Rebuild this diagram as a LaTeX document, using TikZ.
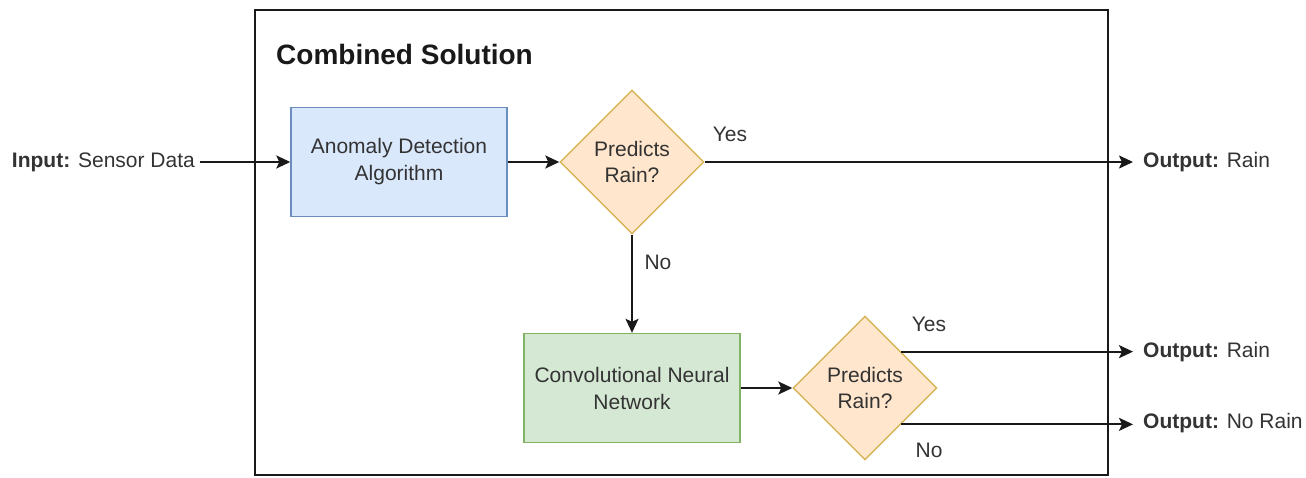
\documentclass[tikz,border=0pt]{standalone}
\usepackage{fontspec}
\setmainfont{Liberation Sans}
\usetikzlibrary{shapes.geometric,arrows.meta}
\definecolor{txt}{HTML}{333333}
\definecolor{bluefill}{HTML}{DAE8FC}
\definecolor{bluestroke}{HTML}{6C8EBF}
\definecolor{greenfill}{HTML}{D5E8D4}
\definecolor{greenstroke}{HTML}{82B366}
\definecolor{orfill}{HTML}{FFE6CC}
\definecolor{orstroke}{HTML}{D6B656}
\tikzset{
  lbl/.style={text=txt,font=\fontsize{21}{26}\selectfont,inner sep=0pt},
  procbox/.style={draw=#1stroke,fill=#1fill,line width=1.4pt,minimum width=216pt,minimum height=109pt,
    align=center,text=txt,font=\fontsize{21}{27}\selectfont,inner sep=0pt},
  decision/.style={diamond,draw=orstroke,fill=orfill,line width=1.4pt,minimum width=144pt,minimum height=144pt,
    aspect=1,align=center,text=txt,font=\fontsize{21}{26}\selectfont,inner sep=0pt},
  conn/.style={line width=2pt,draw=black!90,-{Stealth[length=14pt,width=13pt,inset=3pt]}},
}
\begin{document}
\begin{tikzpicture}[x=1pt,y=-1pt]
\useasboundingbox (0,0) rectangle (1306,478);
% container
\node[draw=black!90,line width=1.8pt,minimum width=853pt,minimum height=465pt,inner sep=0pt] (cont) at (681.5,242.5) {};
\node[anchor=base west,inner sep=0pt,text=black!90,font=\fontsize{28}{32}\selectfont\bfseries] (title) at (276,65) {Combined Solution};
% nodes
\node[procbox=blue] (ad) at (399,162) {Anomaly Detection\\Algorithm};
\node[decision] (d1) at (632,162) {Predicts\\Rain?};
\node[procbox=green] (cnn) at (632,388) {Convolutional Neural\\Network};
\node[decision] (d2) at (865,388) {Predicts\\Rain?};
% io
\node[lbl,anchor=east,inner xsep=5pt] (inp) at (200,162) {\textbf{Input:} Sensor Data};
\node[lbl,anchor=west,inner xsep=10pt] (o1) at (1133,162) {\textbf{Output:} Rain};
\node[lbl,anchor=west,inner xsep=10pt] (o2) at (1133,352) {\textbf{Output:} Rain};
\node[lbl,anchor=west,inner xsep=10pt] (o3) at (1133,423) {\textbf{Output:} No Rain};
% connectors
\draw[conn] (inp.east) -- (ad.west);
\draw[conn] (ad.east) -- (d1.west);
\draw[conn] (d1.east) -- (o1.west);
\draw[conn] (d1.south) -- (cnn.north);
\draw[conn] (cnn.east) -- (d2.west);
\draw[conn] (d2.north east) -- (o2.west |- d2.north east);
\draw[conn] (d2.south east) -- (o3.west |- d2.south east);
% labels
\node[lbl] (yes1) at (730,134) {Yes};
\node[lbl] (no1) at (658,262) {No};
\node[lbl] (yes2) at (929,324) {Yes};
\node[lbl] (no2) at (929,450) {No};
\end{tikzpicture}
\end{document}
